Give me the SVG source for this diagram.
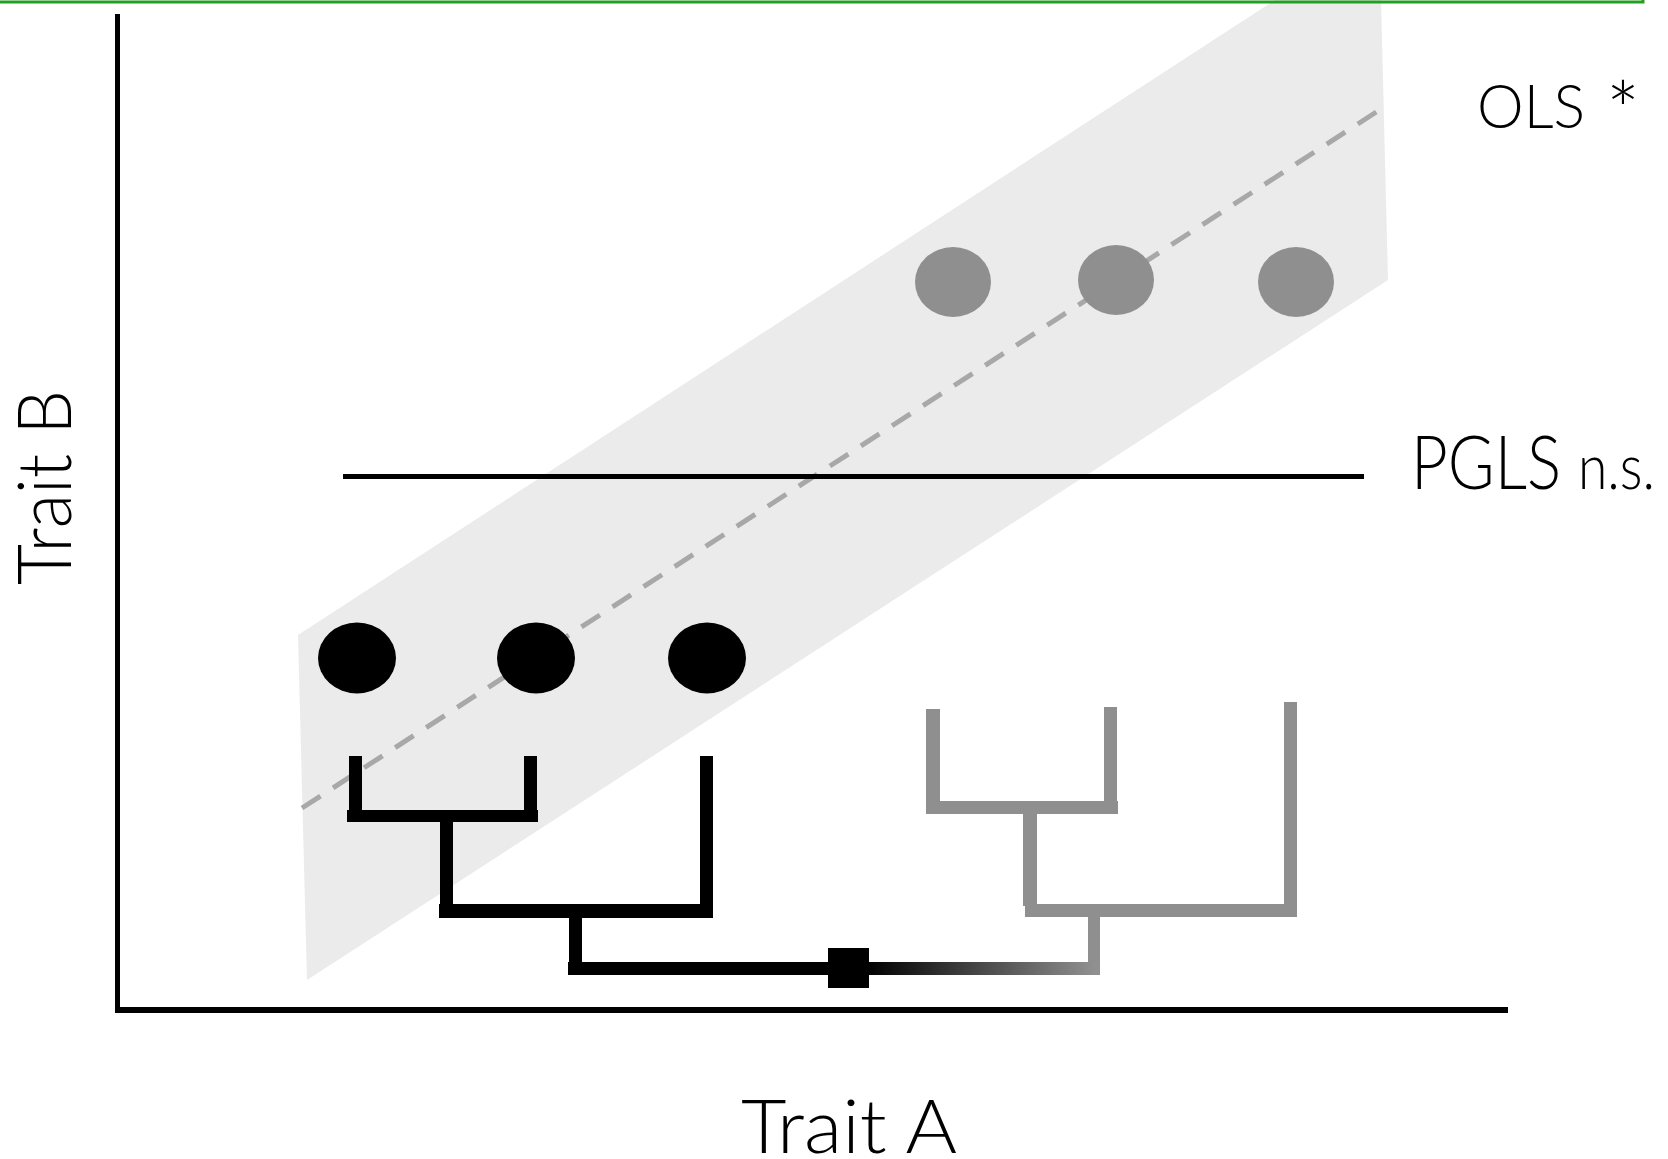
<svg xmlns="http://www.w3.org/2000/svg" width="1668" height="1159" viewBox="0 0 1668 1159">
  <style>
    .lbl { font-family: "Lato", "Liberation Sans", "DejaVu Sans", sans-serif; font-weight: 300; fill: #000; }
    .blk { fill: #000; }
    .gry { fill: #8f8f8f; }
    .dot-b { fill: #000; }
    .dot-g { fill: #8f8f8f; }
  </style>
  <defs>
    <linearGradient id="rootGrad" gradientUnits="userSpaceOnUse" x1="568" y1="0" x2="1100" y2="0">
      <stop offset="0" stop-color="#000"/>
      <stop offset="0.56" stop-color="#000"/>
      <stop offset="0.99" stop-color="#909090"/>
      <stop offset="1" stop-color="#909090"/>
    </linearGradient>
  </defs>
  <rect width="1668" height="1159" fill="#fff"/>

  <g id="band">
    <polygon points="298,635 1275,0 1381,0 1388,280 307,980" fill="#ebebeb"/>
  </g>

  <g id="frame">
    <rect x="-10" y="-10" width="1653" height="12" fill="none" stroke="#22a022" stroke-width="3"/>
  </g>

  <g id="ols-line">
    <line x1="302" y1="808" x2="1384" y2="107" stroke="#a8a8a8" stroke-width="5" stroke-dasharray="22 15"/>
  </g>

  <g id="pgls-line">
    <line x1="343" y1="476.5" x2="1364" y2="476.5" stroke="#000" stroke-width="5"/>
  </g>

  <g id="axes">
    <rect x="115" y="14" width="5" height="999" fill="#000"/>
    <rect x="115" y="1007" width="1393" height="6" fill="#000"/>
  </g>

  <g id="points-black">
    <ellipse class="dot-b" cx="357" cy="658" rx="39" ry="35.5"/>
    <ellipse class="dot-b" cx="536" cy="658" rx="39" ry="35.5"/>
    <ellipse class="dot-b" cx="707" cy="658" rx="39" ry="35.5"/>
  </g>
  <g id="points-grey">
    <ellipse class="dot-g" cx="953" cy="282" rx="38" ry="35"/>
    <ellipse class="dot-g" cx="1116" cy="280" rx="38" ry="35"/>
    <ellipse class="dot-g" cx="1296" cy="282" rx="38" ry="35"/>
  </g>

  <g id="connectors">
    <g id="tree-black">
      <rect class="blk" x="349" y="756" width="13" height="66"/>
      <rect class="blk" x="524" y="756" width="13" height="66"/>
      <rect class="blk" x="347" y="810" width="191" height="12"/>
      <rect class="blk" x="440" y="822" width="13" height="90"/>
      <rect class="blk" x="700" y="756" width="13" height="162"/>
      <rect class="blk" x="439" y="904" width="273" height="14"/>
      <rect class="blk" x="569" y="918" width="13" height="50"/>
    </g>
    <g id="tree-grey">
      <rect class="gry" x="926" y="709" width="14" height="105"/>
      <rect class="gry" x="1104" y="707" width="13" height="107"/>
      <rect class="gry" x="928" y="801" width="190" height="13"/>
      <rect class="gry" x="1023" y="814" width="14" height="92"/>
      <rect class="gry" x="1284" y="702" width="13" height="215"/>
      <rect class="gry" x="1025" y="904" width="272" height="13"/>
      <rect class="gry" x="1088" y="917" width="12" height="51"/>
    </g>
    <rect id="root-branch" x="568" y="962" width="532" height="13" fill="url(#rootGrad)"/>
  </g>

  <g id="shift-marker">
    <rect x="828" y="948" width="41" height="40" fill="#000"/>
  </g>

  <g id="labels">
    <text class="lbl" y="128"><tspan x="1477" font-size="62" textLength="108" lengthAdjust="spacingAndGlyphs">OLS</tspan><tspan x="1606" y="140" font-size="80">*</tspan></text>
    <text class="lbl" y="489"><tspan x="1411" font-size="75" textLength="150" lengthAdjust="spacingAndGlyphs">PGLS</tspan><tspan x="1578" font-size="64" textLength="77" lengthAdjust="spacingAndGlyphs">n.s.</tspan></text>
    <text class="lbl" x="741" y="1153" font-size="74" textLength="216" lengthAdjust="spacingAndGlyphs">Trait A</text>
    <text class="lbl" transform="translate(71,585) rotate(-90)" x="0" y="0" font-size="75" textLength="195" lengthAdjust="spacingAndGlyphs">Trait B</text>
  </g>
</svg>
